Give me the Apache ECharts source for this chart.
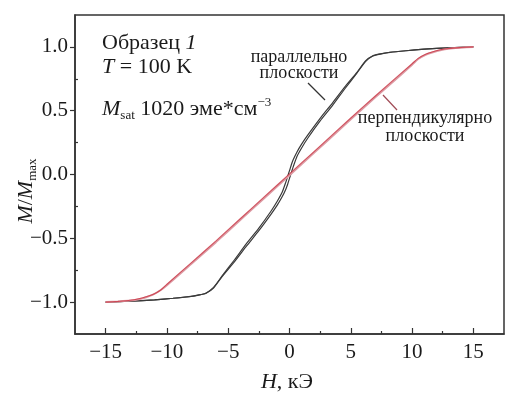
<!DOCTYPE html>
<html>
<head>
<meta charset="utf-8">
<script src="https://cdn.jsdelivr.net/npm/echarts@6/dist/echarts.min.js"></script>
<style>html,body{margin:0;padding:0;background:#fff}#c{width:517px;height:395px}</style>
</head>
<body>
<div id="c"></div>
<script>
// ---- data ----
const xTicks = [-15, -10, -5, 0, 5, 10, 15];
const xMinor = [-12.5, -7.5, -2.5, 2.5, 7.5, 12.5];
const yTicks = [-1, -0.5, 0, 0.5, 1];
const yMinor = [-0.75, -0.25, 0.25, 0.75];

// parallel to plane (black loop)
const blackX    = [-15, -13, -11, -9.5, -8.2, -7.4, -6.8, -6.2, -5.5, -4.5, -3.5, -2.5, -1.5, -1.0, -0.6, -0.3, -0.15, 0, 0.15, 0.3, 0.6, 1.0, 1.5, 2.5, 3.5, 4.5, 5.5, 6.2, 6.8, 7.4, 8.2, 9.5, 11, 13, 15];
const blackUp   = [-1.0, -0.993, -0.982, -0.97, -0.958, -0.945, -0.93, -0.89, -0.80, -0.685, -0.56, -0.44, -0.31, -0.24, -0.175, -0.115, -0.076, -0.03, 0.015, 0.06, 0.14, 0.21, 0.286, 0.42, 0.54, 0.67, 0.795, 0.885, 0.928, 0.944, 0.957, 0.97, 0.982, 0.993, 1.0];
const blackDown = [-1.0, -0.993, -0.982, -0.97, -0.957, -0.944, -0.928, -0.885, -0.795, -0.67, -0.54, -0.42, -0.286, -0.21, -0.14, -0.06, -0.015, 0.03, 0.076, 0.115, 0.175, 0.24, 0.31, 0.44, 0.56, 0.685, 0.80, 0.89, 0.93, 0.945, 0.958, 0.97, 0.982, 0.993, 1.0];

// perpendicular to plane (red loop)
const redX    = [-15, -14, -13, -12.3, -11.7, -11.1, -10.5, -10, -8, -6, -4, -2, 0, 2, 4, 6, 8, 10, 10.5, 11.1, 11.7, 12.3, 13, 14, 15];
const redUp   = [-1.0, -0.995, -0.988, -0.978, -0.962, -0.94, -0.905, -0.868, -0.70, -0.53, -0.355, -0.18, -0.005, 0.17, 0.345, 0.52, 0.69, 0.86, 0.905, 0.938, 0.958, 0.974, 0.986, 0.994, 1.0];
const redDown = [-1.0, -0.994, -0.986, -0.974, -0.958, -0.938, -0.905, -0.86, -0.69, -0.52, -0.345, -0.17, 0.005, 0.18, 0.355, 0.53, 0.70, 0.868, 0.91, 0.942, 0.962, 0.978, 0.988, 0.995, 1.0];

const FONT = 'Liberation Serif';
const TXT = '#1a1a1a';
const AX = '#333';

function pairs(xs, ys) { return xs.map((x, i) => [x, ys[i]]); }
function minus(s) { return String(s).replace('-', '\u2212'); }

const chart = echarts.init(document.getElementById('c'), null, {renderer: 'canvas'});

const common = {type: 'value', min: -17.5, max: 17.5, splitLine: {show: false}};
const commonY = {type: 'value', min: -1.25, max: 1.25, splitLine: {show: false}};

const option = {
  animation: false,
  backgroundColor: '#fff',
  grid: {left: 75, right: 13, top: 15, bottom: 61, show: true, borderColor: AX, borderWidth: 1.5, backgroundColor: 'transparent'},
  xAxis: [
    Object.assign({}, common, {
      position: 'bottom',
      axisLine: {show: true, onZero: false, lineStyle: {color: AX, width: 1.5}},
      axisTick: {show: true, inside: true, length: 6, customValues: xTicks, lineStyle: {color: AX, width: 1.2}},
      axisLabel: {show: true, customValues: xTicks, formatter: v => minus(v), fontFamily: FONT, fontSize: 21, color: TXT, margin: 8}
    }),
    Object.assign({}, common, {
      position: 'bottom',
      axisLine: {show: false, onZero: false},
      axisTick: {show: true, inside: true, length: 3, customValues: xMinor, lineStyle: {color: AX, width: 1.2}},
      axisLabel: {show: false}
    })
  ],
  yAxis: [
    Object.assign({}, commonY, {
      position: 'left',
      axisLine: {show: true, onZero: false, lineStyle: {color: AX, width: 1.5}},
      axisTick: {show: true, inside: false, length: 5, customValues: yTicks, lineStyle: {color: AX, width: 1.2}},
      axisLabel: {show: true, customValues: yTicks, formatter: v => minus(Number(v).toFixed(1)), fontFamily: FONT, fontSize: 21, color: TXT, margin: 7}
    }),
    Object.assign({}, commonY, {
      position: 'left',
      axisLine: {show: false, onZero: false},
      axisTick: {show: true, inside: true, length: 3, customValues: yMinor, lineStyle: {color: AX, width: 1.2}},
      axisLabel: {show: false}
    })
  ],
  series: [
    {type: 'line', name: 'par-up', data: pairs(blackX, blackUp), showSymbol: false, smooth: 0.2, lineStyle: {color: '#3a3a3a', width: 1.2}, z: 2},
    {type: 'line', name: 'par-down', data: pairs(blackX, blackDown), showSymbol: false, smooth: 0.2, lineStyle: {color: '#3a3a3a', width: 1.2}, z: 2},
    {type: 'line', name: 'perp-up', data: pairs(redX, redUp), showSymbol: false, smooth: 0.3, lineStyle: {color: '#dd9aa3', width: 2}, z: 3},
    {type: 'line', name: 'perp-down', data: pairs(redX, redDown), showSymbol: false, smooth: 0.3, lineStyle: {color: 'rgba(200,45,60,0.75)', width: 1.1}, z: 4}
  ],
  graphic: [
    {type: 'text', left: 102, top: 32, style: {text: '{n|Образец }{i|1}', rich: {n: {fontFamily: FONT, fontSize: 22, fill: TXT}, i: {fontFamily: FONT, fontSize: 22, fontStyle: 'italic', fill: TXT}}}},
    {type: 'text', left: 102, top: 56, style: {text: '{i|T}{n| = 100 K}', rich: {n: {fontFamily: FONT, fontSize: 22, fill: TXT}, i: {fontFamily: FONT, fontSize: 22, fontStyle: 'italic', fill: TXT}}}},
    {type: 'text', left: 102, top: 96, style: {text: '{i|M}{sub|sat}{n| 1020 эме*см}{sup|−3}', rich: {
      n: {fontFamily: FONT, fontSize: 22, fill: TXT, lineHeight: 26},
      i: {fontFamily: FONT, fontSize: 22, fontStyle: 'italic', fill: TXT, lineHeight: 26},
      sub: {fontFamily: FONT, fontSize: 13, fill: TXT, verticalAlign: 'bottom', lineHeight: 14},
      sup: {fontFamily: FONT, fontSize: 13, fill: TXT, verticalAlign: 'top', lineHeight: 14}}}},
    {type: 'text', x: 299, y: 65, style: {text: 'параллельно\nплоскости', fontFamily: FONT, fontSize: 18, fill: TXT, textAlign: 'center', textVerticalAlign: 'middle', lineHeight: 16}},
    {type: 'text', x: 425, y: 127, style: {text: 'перпендикулярно\nплоскости', fontFamily: FONT, fontSize: 18, fill: TXT, textAlign: 'center', textVerticalAlign: 'middle', lineHeight: 18}},
    {type: 'line', shape: {x1: 308, y1: 83, x2: 325, y2: 100}, style: {stroke: '#333', lineWidth: 1.2}},
    {type: 'line', shape: {x1: 383, y1: 95, x2: 397, y2: 110}, style: {stroke: '#a04a55', lineWidth: 1.2}},
    {type: 'text', x: 287, y: 382, style: {text: '{i|H}{n|, кЭ}', textAlign: 'center', textVerticalAlign: 'middle', rich: {n: {fontFamily: FONT, fontSize: 22, fill: TXT}, i: {fontFamily: FONT, fontSize: 22, fontStyle: 'italic', fill: TXT}}}},
    {type: 'text', x: 26, y: 191, rotation: Math.PI / 2, style: {text: '{i|M}{n|/}{i|M}{sub|max}', textAlign: 'center', textVerticalAlign: 'middle', rich: {
      n: {fontFamily: FONT, fontSize: 22, fill: TXT, lineHeight: 26},
      i: {fontFamily: FONT, fontSize: 22, fontStyle: 'italic', fill: TXT, lineHeight: 26},
      sub: {fontFamily: FONT, fontSize: 13, fill: TXT, verticalAlign: 'bottom', lineHeight: 14}}}}
  ]
};
chart.setOption(option);
</script>
</body>
</html>
